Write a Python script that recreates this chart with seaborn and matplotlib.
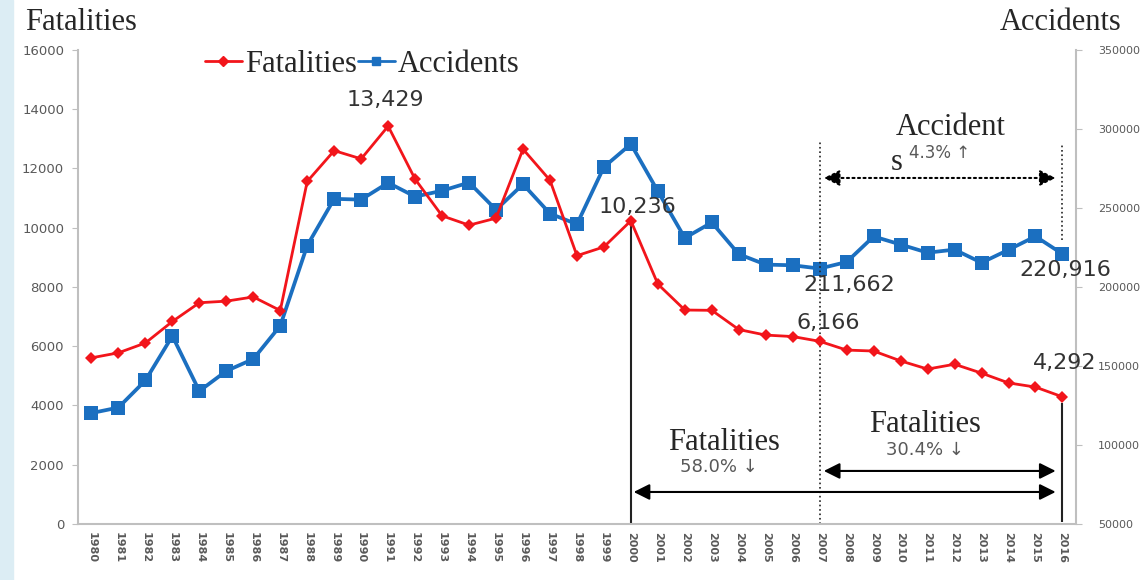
import numpy as np
import pandas as pd
import seaborn as sns
import matplotlib.pyplot as plt
from matplotlib.lines import Line2D
from matplotlib.patches import Rectangle

# Road traffic fatalities / accidents, 1980-2016
years = list(range(1980, 2017))
fatalities = [5608, 5778, 6110, 6836, 7468, 7522, 7664, 7206, 11563, 12603,
              12325, 13429, 11640, 10402, 10087, 10323, 12653, 11603, 9057, 9353,
              10236, 8097, 7222, 7212, 6563, 6376, 6327, 6166, 5870, 5838,
              5505, 5229, 5392, 5092, 4762, 4621, 4292]
accidents = [120182, 123702, 140848, 168977, 134125, 146836, 154391, 175470, 226237, 255787,
             255303, 265964, 257194, 260921, 266107, 248865, 265052, 246452, 239721, 275938,
             290481, 260579, 231026, 240832, 220755, 214171, 213745, 211662, 215822, 231990,
             226878, 221711, 223656, 215354, 223552, 232035, 220916]

df = pd.DataFrame({"year": years, "fatalities": fatalities, "accidents": accidents})

RED = "#f2151b"
BLUE = "#1b6fc0"
GRAY = "#595959"
SERIF = "Liberation Serif"


def make_chart():
    sns.set_style("white")
    plt.rcParams['font.family'] = ['DejaVu Sans']

    fig = plt.figure(figsize=(11.4, 5.8), dpi=100)
    ax = fig.add_axes([0.0684, 0.0966, 0.8754, 0.8172])
    ax2 = ax.twinx()

    # light watermark strip on the left edge
    fig.patches.append(Rectangle((0, 0), 0.011, 1, transform=fig.transFigure,
                                 color="#dcedf4", zorder=0))

    sns.lineplot(data=df, x="year", y="accidents", ax=ax2, color=BLUE, lw=2.7,
                 marker="s", markersize=9.5, markeredgewidth=0, zorder=3)
    sns.lineplot(data=df, x="year", y="fatalities", ax=ax, color=RED, lw=2,
                 marker="D", markersize=6, markeredgewidth=0, zorder=4)
    ax.set_zorder(ax2.get_zorder() + 1)
    ax.patch.set_visible(False)

    ax.set_xlim(1979.5, 2016.5)
    ax.set_ylim(0, 16000)
    ax2.set_ylim(50000, 350000)

    ax.set_xticks(years)
    ax.set_xticklabels([str(y) for y in years], rotation=270, fontsize=8,
                       color=GRAY, fontweight="bold")
    ax.set_xticks(np.arange(1979.5, 2017, 1), minor=True)
    ax.tick_params(axis="x", which="major", length=0, pad=6)
    ax.tick_params(axis="x", which="minor", length=4, color="#bfbfbf", width=1)
    ax.set_yticks(range(0, 16001, 2000))
    ax.tick_params(axis="y", length=4, color="#bfbfbf", labelsize=9.5, labelcolor=GRAY, pad=6)
    ax2.set_yticks(range(50000, 350001, 50000))
    ax2.tick_params(axis="y", length=4, color="#bfbfbf", labelsize=8, labelcolor=GRAY, pad=12)
    ax.set_xlabel("")
    ax.set_ylabel("")
    ax2.set_ylabel("")

    for a in (ax, ax2):
        a.spines["top"].set_visible(False)
        for s in ("left", "right", "bottom"):
            a.spines[s].set_color("#bfbfbf")
            a.spines[s].set_linewidth(1.5)
    ax.spines["right"].set_visible(False)
    ax2.spines["left"].set_visible(False)
    ax2.spines["bottom"].set_visible(False)

    # axis titles
    fig.text(25 / 1140, 1 - 23 / 580, "Fatalities", family=SERIF, fontsize=22, va="center")
    fig.text(1000 / 1140, 1 - 23 / 580, "Accidents", family=SERIF, fontsize=22, va="center")

    # legend
    handles = [Line2D([], [], color=RED, lw=2, marker="D", markersize=5),
               Line2D([], [], color=BLUE, lw=2, marker="s", markersize=6)]
    ax.legend(handles, ["Fatalities", "Accidents"], loc="center left",
              bbox_to_anchor=(205 / 1140, 1 - 64 / 580), bbox_transform=fig.transFigure,
              ncol=2, frameon=False, handlelength=1.2, handletextpad=0.1,
              columnspacing=0.05, borderpad=0, borderaxespad=0,
              prop={"family": SERIF, "size": 22})

    # value labels
    num = dict(fontsize=16, color="#333333", ha="center", va="center")
    ax.text(1990.9, 14300, "13,429", **num)
    ax.text(2000.25, 10700, "10,236", **num)
    ax.text(2008.1, 8070, "211,662", **num)
    ax.text(2016.1, 8580, "220,916", **num)
    ax.text(2007.3, 6790, "6,166", **num)
    ax.text(2016.1, 5440, "4,292", **num)

    # guide lines
    ax.vlines(2000, 0, 10236, color="#222222", lw=1.5, zorder=2)
    ax.vlines(2007, 0, 12960, color="#222222", lw=1.2, ls=":", zorder=2)
    ax.vlines(2016, 9590, 12860, color="#222222", lw=1.2, ls=":", zorder=2)
    ax.vlines(2016, 70, 4090, color="#222222", lw=1.5, zorder=2)

    arrow = dict(arrowstyle="<|-|>", color="black", lw=1.5, mutation_scale=24)
    ax.annotate("", xy=(2000, 1080), xytext=(2015.85, 1080), arrowprops=arrow)
    ax.annotate("", xy=(2007.05, 1790), xytext=(2015.85, 1790), arrowprops=arrow)
    ax.annotate("", xy=(2007.05, 11680), xytext=(2015.85, 11680),
                arrowprops=dict(arrow, ls=":", lw=1.5))

    ax.text(2003.45, 2740, "Fatalities", family=SERIF, fontsize=22, ha="center", va="center")
    ax.text(2003.25, 1930, "58.0% \u2193", fontsize=13, color=GRAY, ha="center", va="center")
    ax.text(2010.9, 3350, "Fatalities", family=SERIF, fontsize=22, ha="center", va="center")
    ax.text(2010.9, 2500, "30.4% \u2193", fontsize=13, color=GRAY, ha="center", va="center")
    ax.text(2011.85, 13400, "Accident", family=SERIF, fontsize=22, ha="center", va="center")
    ax.text(2009.85, 12200, "s", family=SERIF, fontsize=22, ha="center", va="center")
    ax.text(2011.45, 12530, "4.3% \u2191", fontsize=12, color=GRAY, ha="center", va="center")

    plt.savefig("out.png", dpi=100)
    print("saved out.png")


if __name__ == "__main__":
    make_chart()
